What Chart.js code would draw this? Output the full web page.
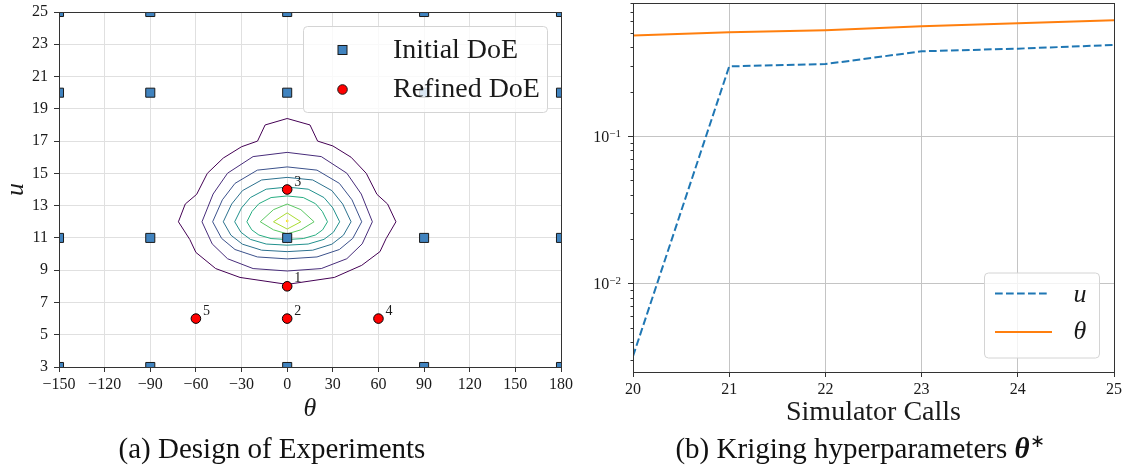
<!DOCTYPE html>
<html>
<head>
<meta charset="utf-8">
<script src="https://cdn.jsdelivr.net/npm/chart.js@4.4.1/dist/chart.umd.min.js"></script>
<style>
  body { margin: 0; background: #fff; }
  #wrap { position: relative; width: 1132px; height: 472px; font-family: "Liberation Serif", serif; color: #111; }
  canvas { position: absolute; top: 0; }
  #left { left: 0; }
  #right { left: 566px; }
  .caption { position: absolute; top: 428px; height: 40px; line-height: 40px; font-size: 29px; white-space: nowrap; transform: translateX(-50%); }
  .caption sup { font-size: 18px; line-height: 0; }
</style>
</head>
<body>
<div id="wrap">
  <canvas id="right" width="566" height="472"></canvas>
  <canvas id="left" width="590" height="472"></canvas>
  <div class="caption" style="left:272px">(a) Design of Experiments</div>
  <div class="caption" style="left:860px">(b) Kriging hyperparameters <b><i>θ</i></b><sup>∗</sup></div>
</div>
<script>
'use strict';

// data: design of experiments

let initialTheta = [-150, -90, 0, 90, 180];
let initialU = [3, 11, 20, 25];
let refinedTheta = [0, 0, 0, 60, -60];
let refinedU = [8, 6, 14, 6, 6];
let refinedLabels = ['1', '2', '3', '4', '5'];
let thetaTicks = [-150, -120, -90, -60, -30, 0, 30, 60, 90, 120, 150, 180];
let uTicks = [3, 5, 7, 9, 11, 13, 15, 17, 19, 21, 23, 25];

// contour lines, outermost first, as [theta, u] vertices
let contourColors = ['#440154', '#472c7a', '#3b518b', '#2c718e', '#21908d', '#27ad81', '#5cc863', '#aadc32', '#fde725'];
let contourLines = [
  [[0, 18.4], [15, 18.0], [20, 17.0], [30, 16.7], [42, 16.0], [52, 15.0], [59, 13.7], [66, 13.1], [71.5, 12.0], [65, 10.95], [61, 10.15], [49, 9.3], [31, 8.55], [0, 8.12],
   [-31, 8.55], [-47, 9.1], [-60, 10.1], [-64, 10.9], [-71.5, 12.0], [-67, 13.1], [-59.5, 13.7], [-52.5, 15.0], [-42, 15.95], [-30, 16.65], [-19.5, 17.0], [-14.5, 18.0], [0, 18.4]],
  [[0, 16.3], [22.4, 16.04], [39.2, 15.01], [48.7, 13.72], [56, 12], [49.3, 10.63], [39.2, 9.71], [22.4, 9.1], [0, 8.95],
   [-22.4, 9.1], [-39.2, 9.71], [-49.3, 10.63], [-56, 12], [-48.7, 13.72], [-39.2, 15.01], [-22.4, 16.04], [0, 16.3]],
  [[0, 15.4], [19.6, 15.2], [34.3, 14.38], [42.6, 13.36], [49, 12], [43.1, 10.97], [34.3, 10.28], [19.6, 9.82], [0, 9.7],
   [-19.6, 9.82], [-34.3, 10.28], [-43.1, 10.97], [-49, 12], [-42.6, 13.36], [-34.3, 14.38], [-19.6, 15.2], [0, 15.4]],
  [[0, 14.75], [16.8, 14.59], [29.4, 13.93], [36.5, 13.1], [42, 12], [37, 11.17], [29.4, 10.61], [16.8, 10.24], [0, 10.15],
   [-16.8, 10.24], [-29.4, 10.61], [-37, 11.17], [-42, 12], [-36.5, 13.1], [-29.4, 13.93], [-16.8, 14.59], [0, 14.75]],
  [[0, 14.15], [13.8, 14.02], [24.2, 13.5], [30, 12.86], [34.5, 12], [30.4, 11.35], [24.2, 10.91], [13.8, 10.62], [0, 10.55],
   [-13.8, 10.62], [-24.2, 10.91], [-30.4, 11.35], [-34.5, 12], [-30, 12.86], [-24.2, 13.5], [-13.8, 14.02], [0, 14.15]],
  [[0, 13.6], [10.6, 13.5], [18.6, 13.12], [23.1, 12.64], [26.5, 12], [23.3, 11.5], [18.6, 11.18], [10.6, 10.96], [0, 10.9],
   [-10.6, 10.96], [-18.6, 11.18], [-23.3, 11.5], [-26.5, 12], [-23.1, 12.64], [-18.6, 13.12], [-10.6, 13.5], [0, 13.6]],
  [[0, 13.1], [9, 12.75], [17.7, 12], [9, 11.5], [0, 11.25], [-9, 11.5], [-17.7, 12], [-9, 12.75], [0, 13.1]],
  [[0, 12.55], [9, 12], [0, 11.55], [-9, 12], [0, 12.55]],
  [[0, 12.12], [0.8, 12.05], [0, 11.98], [-0.8, 12.05], [0, 12.12]]
];

// data: kriging hyperparameters

let simulatorCalls = [20, 21, 22, 23, 24, 25];
let hyperU = [0.0032, 0.297, 0.308, 0.376, 0.392, 0.415];
let hyperTheta = [0.481, 0.506, 0.522, 0.556, 0.583, 0.611];
let decadeTicks = [0.01, 0.1];
let minorMultipliers = [2, 3, 4, 5, 6, 7, 8, 9];

// shared styles

const serif = '"Liberation Serif", serif';
const textColor = '#1a1a1a';
const spineColor = '#333';

function minusLabel(v) {
  return v < 0 ? '\u2212' + Math.abs(v) : String(v);
}

function crisp(v) {
  return Math.round(v) + 0.5;
}

function drawFrame(ctx, a) {
  ctx.save();
  ctx.strokeStyle = spineColor;
  ctx.lineWidth = 1;
  ctx.strokeRect(crisp(a.left), crisp(a.top), Math.round(a.right) - Math.round(a.left), Math.round(a.bottom) - Math.round(a.top));
  ctx.restore();
}

function legendBox(ctx, x, y, w, h) {
  ctx.beginPath();
  ctx.roundRect(x, y, w, h, 4);
  ctx.fillStyle = 'rgba(255,255,255,0.8)';
  ctx.fill();
  ctx.strokeStyle = '#d4d4d4';
  ctx.lineWidth = 1;
  ctx.stroke();
}

// left chart: design of experiments

let initialPoints = [];
for (let u of initialU) {
  for (let t of initialTheta) {
    initialPoints.push({ x: t, y: u });
  }
}
let refinedPoints = refinedTheta.map((t, i) => ({ x: t, y: refinedU[i] }));

let leftDatasets = [
  {
    label: 'Refined DoE', data: refinedPoints, pointStyle: 'circle', pointRadius: 4.8,
    backgroundColor: '#ff0000', borderColor: '#000', borderWidth: 1, clip: 0
  },
  {
    label: 'Initial DoE', data: initialPoints, pointStyle: 'rect', pointRadius: 6.4,
    backgroundColor: '#4083bf', borderColor: '#1a1a1a', borderWidth: 1, clip: 0
  }
];
contourLines.forEach((line, i) => {
  leftDatasets.push({
    label: 'level ' + i, data: line.map(p => ({ x: p[0], y: p[1] })), showLine: true,
    pointRadius: 0, borderColor: contourColors[i], borderWidth: 1, tension: 0, fill: false, clip: 0
  });
});

let leftDecor = {
  id: 'leftDecor',
  afterDatasetsDraw(chart) {
    let { ctx, chartArea, scales: { x, y } } = chart;
    drawFrame(ctx, chartArea);

    ctx.save();
    ctx.font = '14px ' + serif;
    ctx.fillStyle = textColor;
    ctx.textAlign = 'left';
    ctx.textBaseline = 'alphabetic';
    for (let i = 0; i < refinedLabels.length; i++) {
      ctx.fillText(refinedLabels[i], x.getPixelForValue(refinedTheta[i]) + 7, y.getPixelForValue(refinedU[i]) - 4);
    }

    legendBox(ctx, 303.5, 26.5, 244, 86);
    ctx.fillStyle = '#4083bf';
    ctx.strokeStyle = '#1a1a1a';
    ctx.fillRect(338, 45.5, 9, 9);
    ctx.strokeRect(338, 45.5, 9, 9);
    ctx.beginPath();
    ctx.arc(342.5, 89.5, 4.8, 0, Math.PI * 2);
    ctx.fillStyle = '#ff0000';
    ctx.fill();
    ctx.stroke();
    ctx.font = '28px ' + serif;
    ctx.fillStyle = textColor;
    ctx.fillText('Initial DoE', 393, 57.5);
    ctx.fillText('Refined DoE', 393, 97);
    ctx.restore();
  }
};

new Chart(document.getElementById('left'), {
  type: 'scatter',
  data: { datasets: leftDatasets },
  options: {
    responsive: false,
    animation: false,
    events: [],
    layout: { padding: { left: 0, top: 12, right: 29, bottom: 0 } },
    plugins: { legend: { display: false }, tooltip: { enabled: false } },
    scales: {
      x: {
        type: 'linear', min: -150, max: 180,
        afterBuildTicks: s => { s.ticks = thetaTicks.map(v => ({ value: v })); },
        afterFit: s => { s.height = 472 - 367; s.paddingLeft = 0; s.paddingRight = 0; },
        grid: { color: '#e0e0e0', lineWidth: 1, tickColor: spineColor, tickLength: 5 },
        border: { display: false },
        ticks: { color: textColor, font: { family: serif, size: 16 }, padding: 3, maxRotation: 0, autoSkip: false, callback: v => minusLabel(v) },
        title: { display: true, text: 'θ', color: textColor, font: { family: serif, size: 26, style: 'italic' }, padding: { top: 0, bottom: 47 } }
      },
      y: {
        type: 'linear', min: 3, max: 25,
        afterBuildTicks: s => { s.ticks = uTicks.map(v => ({ value: v })); },
        afterFit: s => { s.width = 59; s.paddingTop = 0; s.paddingBottom = 0; },
        grid: { color: '#e0e0e0', lineWidth: 1, tickColor: spineColor, tickLength: 5 },
        border: { display: false },
        ticks: { color: textColor, font: { family: serif, size: 16 }, padding: 6, autoSkip: false, callback: v => minusLabel(v) },
        title: { display: true, text: 'u', color: textColor, font: { family: serif, size: 26, style: 'italic' }, padding: { top: 1, bottom: 0 } }
      }
    }
  },
  plugins: [leftDecor]
});

// right chart: kriging hyperparameters

let rightDecor = {
  id: 'rightDecor',
  afterDatasetsDraw(chart) {
    let { ctx, chartArea, scales: { y } } = chart;
    drawFrame(ctx, chartArea);

    ctx.save();
    // log ticks on the left spine
    ctx.strokeStyle = spineColor;
    ctx.lineWidth = 1;
    let left = Math.round(chartArea.left);
    let decades = [0.001, 0.01, 0.1];
    for (let d of decades) {
      let marks = [{ v: d, len: 5 }].concat(minorMultipliers.map(m => ({ v: m * d, len: 2.5 })));
      for (let mk of marks) {
        if (mk.v < y.min || mk.v > y.max) continue;
        let py = crisp(y.getPixelForValue(mk.v));
        ctx.beginPath();
        ctx.moveTo(left - mk.len, py);
        ctx.lineTo(left, py);
        ctx.stroke();
      }
    }
    // decade labels
    ctx.fillStyle = textColor;
    ctx.textAlign = 'right';
    ctx.textBaseline = 'alphabetic';
    for (let v of decadeTicks) {
      let py = y.getPixelForValue(v);
      let exp = '\u2212' + Math.abs(Math.round(Math.log10(v)));
      ctx.font = '11px ' + serif;
      let supW = ctx.measureText(exp).width;
      ctx.fillText(exp, left - 12, py + 0.5);
      ctx.font = '16px ' + serif;
      ctx.fillText('10', left - 12 - supW, py + 6);
    }

    // legend
    legendBox(ctx, 418.5, 273, 115, 85);
    ctx.lineWidth = 2;
    ctx.strokeStyle = '#1f77b4';
    ctx.setLineDash([7.7, 3.3]);
    ctx.beginPath();
    ctx.moveTo(429, 293.5);
    ctx.lineTo(482, 293.5);
    ctx.stroke();
    ctx.setLineDash([]);
    ctx.strokeStyle = '#ff7f0e';
    ctx.beginPath();
    ctx.moveTo(429, 332);
    ctx.lineTo(486, 332);
    ctx.stroke();
    ctx.font = 'italic 26px ' + serif;
    ctx.fillStyle = textColor;
    ctx.textAlign = 'center';
    ctx.textBaseline = 'middle';
    ctx.fillText('u', 514, 295);
    ctx.fillText('θ', 514, 332);
    ctx.restore();
  }
};

new Chart(document.getElementById('right'), {
  type: 'scatter',
  data: {
    datasets: [
      {
        label: 'u', data: simulatorCalls.map((c, i) => ({ x: c, y: hyperU[i] })), showLine: true,
        borderColor: '#1f77b4', borderWidth: 2, borderDash: [7.7, 3.3], pointRadius: 0, tension: 0, clip: 0
      },
      {
        label: 'θ', data: simulatorCalls.map((c, i) => ({ x: c, y: hyperTheta[i] })), showLine: true,
        borderColor: '#ff7f0e', borderWidth: 2, pointRadius: 0, tension: 0, clip: 0
      }
    ]
  },
  options: {
    responsive: false,
    animation: false,
    events: [],
    layout: { padding: { left: 0, top: 3, right: 18, bottom: 0 } },
    plugins: { legend: { display: false }, tooltip: { enabled: false } },
    scales: {
      x: {
        type: 'linear', min: 20, max: 25,
        afterBuildTicks: s => { s.ticks = simulatorCalls.map(v => ({ value: v })); },
        afterFit: s => { s.height = 472 - 372; s.paddingLeft = 0; s.paddingRight = 0; },
        grid: { color: '#c4c4c4', lineWidth: 1, tickColor: spineColor, tickLength: 5 },
        border: { display: false },
        ticks: { color: textColor, font: { family: serif, size: 16 }, padding: 3, maxRotation: 0, autoSkip: false },
        title: { display: true, text: 'Simulator Calls', color: textColor, font: { family: serif, size: 28 }, padding: { top: 0, bottom: 43 } }
      },
      y: {
        type: 'logarithmic', min: 0.0025, max: 0.8,
        afterBuildTicks: s => { s.ticks = decadeTicks.map(v => ({ value: v })); },
        afterFit: s => { s.width = 67; s.paddingTop = 0; s.paddingBottom = 0; },
        grid: { color: '#c4c4c4', lineWidth: 1, drawTicks: false },
        border: { display: false },
        ticks: { display: false }
      }
    }
  },
  plugins: [rightDecor]
});
</script>
</body>
</html>
